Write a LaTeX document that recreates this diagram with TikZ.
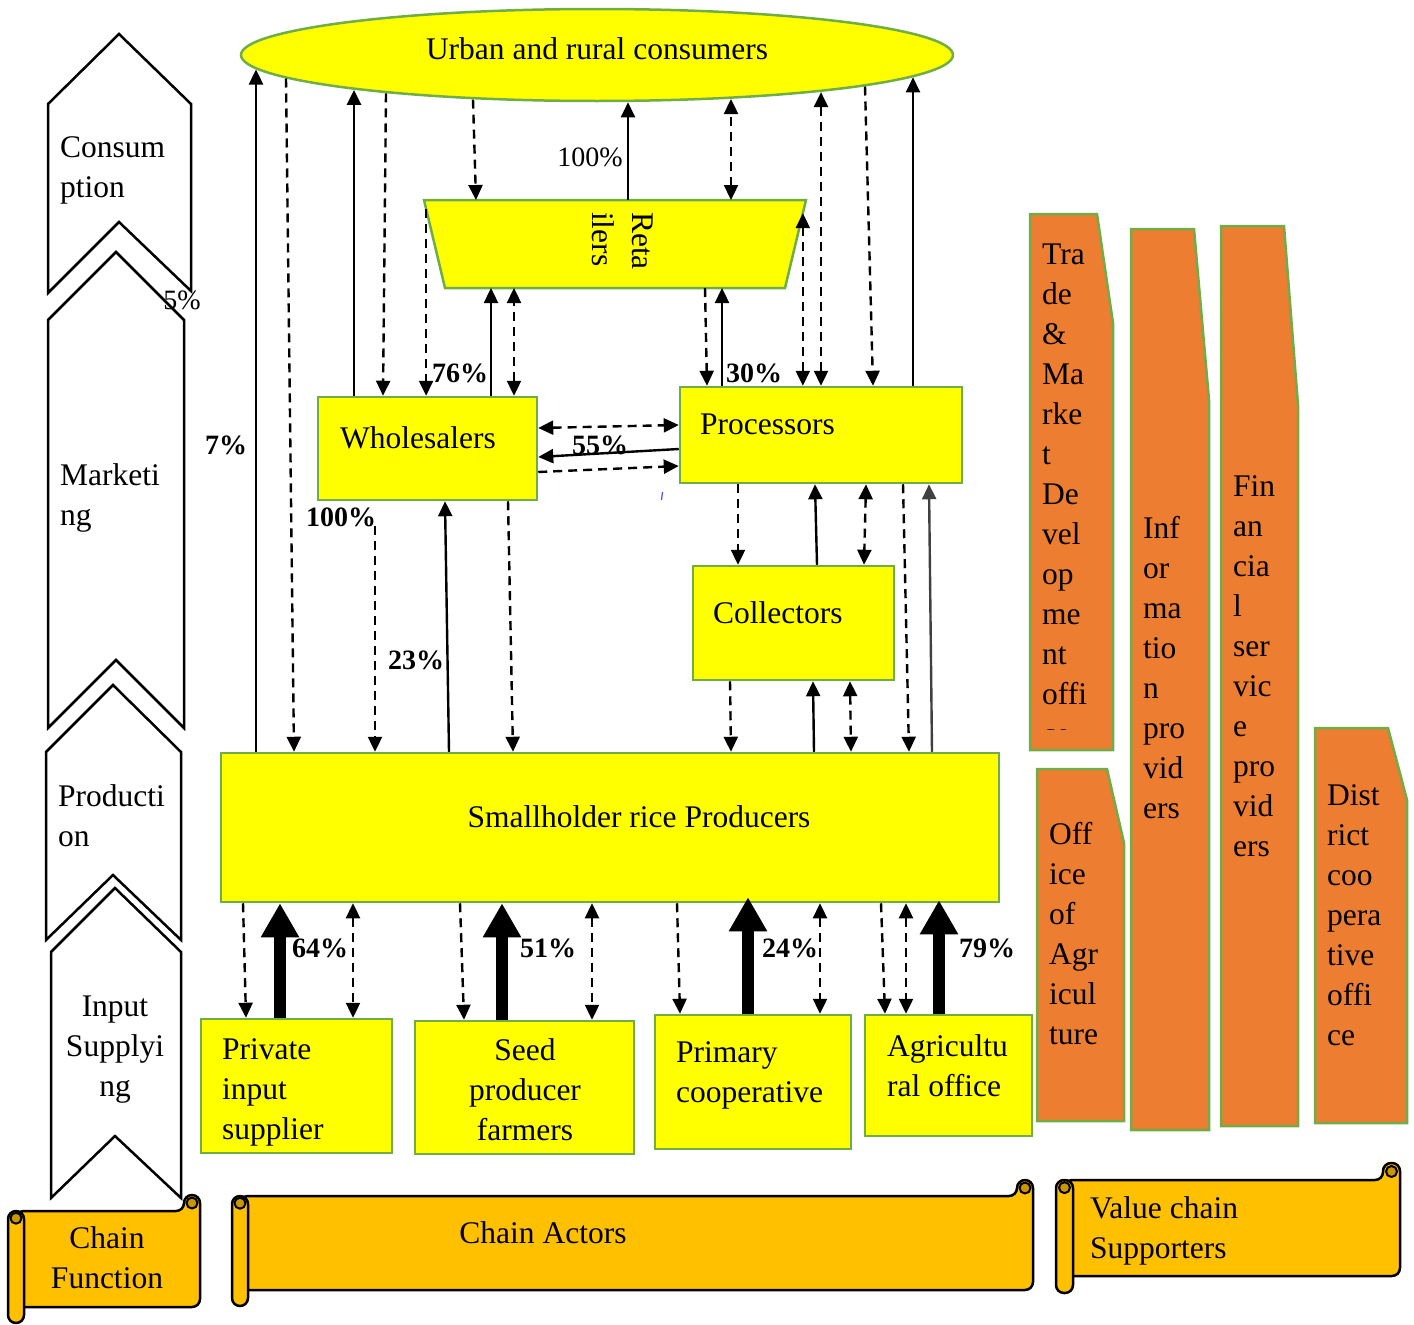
\documentclass[tikz,border=0pt]{standalone}
\usepackage{fontspec}
\setmainfont{Liberation Serif}
\usetikzlibrary{arrows.meta,shapes.geometric,calc}
\definecolor{ylw}{HTML}{FFFF00}
\definecolor{bgreen}{HTML}{70AD47}
\definecolor{orng}{HTML}{ED7D31}
\definecolor{scrl}{HTML}{FFC000}
\definecolor{scrldark}{HTML}{C99700}
\definecolor{arrgray}{HTML}{404040}
\tikzset{
  box/.style={draw=bgreen, line width=2.5pt, fill=ylw, inner sep=0pt},
  supshape/.style={draw=bgreen, line width=2.5pt, fill=orng},
  chev/.style={draw=black, line width=2.5pt, fill=white, line join=miter},
  scrollst/.style={draw=black, line width=2.5pt, fill=scrl, line join=round},
  txt/.style={font=\fontsize{31.5}{40}\selectfont, inner sep=0pt, align=left},
  txtc/.style={txt, align=center},
  pct/.style={font=\fontsize{28}{32}\selectfont\bfseries, inner sep=0pt},
  pctn/.style={font=\fontsize{28}{32}\selectfont, inner sep=0pt},
  flow/.style={line width=2.4pt, -{Triangle[width=14pt,length=15pt]}},
  dflow/.style={flow, dash pattern=on 9pt off 6pt},
  dboth/.style={line width=2.4pt, dash pattern=on 9pt off 6pt,
     {Triangle[width=14pt,length=15pt]}-{Triangle[width=14pt,length=15pt]}},
  bigflow/.style={line width=12pt, -{Triangle[width=36pt,length=34pt]}},
}
\newcommand\myscroll[5]{%
  \filldraw[scrollst, rounded corners=8pt] ({#1+#5/2},{#2+#5}) -- ({#3-#5},{#2+#5})
     -- ({#3-#5},{#2}) -- ({#3},{#2}) -- ({#3},{#4-#5}) -- ({#1+#5/2},{#4-#5}) -- cycle;
  \filldraw[scrollst, rounded corners=8pt] ({#1},{#2+#5}) rectangle ({#1+#5},{#4});
  \filldraw[scrollst, fill=scrldark, line width=2pt] ({#1+#5/2},{#2+#5*1.45}) circle[radius=5.5pt];
  \filldraw[scrollst, fill=scrldark, line width=2pt] ({#3-#5/2},{#2+#5/2}) circle[radius=5.5pt];
}
\begin{document}
\begin{tikzpicture}[x=1pt,y=-1pt]
\useasboundingbox (0,0) rectangle (1414,1325);

% ---------- chain function chevrons ----------
\filldraw[chev] (119,34) -- (191,104) -- (191,291) -- (119,222) -- (48,293) -- (48,104) -- cycle;
\filldraw[chev] (116,252) -- (184,320) -- (184,728) -- (116,660) -- (48,728) -- (48,320) -- cycle;
\filldraw[chev] (113,685) -- (181,752) -- (181,940) -- (113,875) -- (46,940) -- (46,752) -- cycle;
\filldraw[chev] (115,888) -- (181,952) -- (181,1198) -- (115,1136) -- (51,1198) -- (51,952) -- cycle;
\node[txt, anchor=west] (tcons) at (60,170) {Consum\\ption};
\node[txt, anchor=west] (tmark) at (60,498) {Marketi\\ng};
\node[txt, anchor=west] (tprod) at (58,816) {Producti\\on};
\node[txtc] (tinput) at (115,1050) {Input\\Supplyi\\ng};

% ---------- value chain supporters ----------
\filldraw[supshape] (1030,214) -- (1097,214) -- (1113,323) -- (1113,750) -- (1030,750) -- cycle;
\filldraw[supshape] (1131,229) -- (1194,229) -- (1209,400) -- (1209,1130) -- (1131,1130) -- cycle;
\filldraw[supshape] (1221,226) -- (1284,226) -- (1298,405) -- (1298,1126) -- (1221,1126) -- cycle;
\filldraw[supshape] (1037,769) -- (1107,769) -- (1124,843) -- (1124,1121) -- (1037,1121) -- cycle;
\filldraw[supshape] (1315,728) -- (1388,728) -- (1407,800) -- (1407,1123) -- (1315,1123) -- cycle;
\begin{scope}
  \clip (1030,214) rectangle (1113,729);
  \node[txt, anchor=west] (ttrade) at (1042,494) {Tra\\de\\\&\\Ma\\rke\\t\\De\\vel\\op\\me\\nt\\offi\\ce};
\end{scope}
\node[txt, anchor=west] (tinfo) at (1143,668) {Inf\\or\\ma\\tio\\n\\pro\\vid\\ers};
\node[txt, anchor=west] (tfin) at (1233,666) {Fin\\an\\cia\\l\\ser\\vic\\e\\pro\\vid\\ers};
\node[txt, anchor=west] (toff) at (1049,934) {Off\\ice\\of\\Agr\\icul\\ture};
\node[txt, anchor=west] (tdist) at (1327,915) {Dist\\rict\\coo\\pera\\tive\\offi\\ce};

% ---------- scrolls ----------
\myscroll{8}{1195}{200}{1323}{16}
\myscroll{232}{1180}{1033}{1306}{16}
\myscroll{1056}{1163}{1400}{1293}{17}
\node[txtc] (tcf) at (107,1258) {Chain\\Function};
\node[txt] (tca) at (543,1233) {Chain Actors};
\node[txt, anchor=west] (tvcs) at (1090,1231) {Value chain\\Supporters};

% ---------- chain actors ----------
\node[box, ellipse, minimum width=712pt, minimum height=92pt,
      font=\fontsize{31.5}{40}\selectfont, text height=22pt, text depth=14pt]
      (cons) at (597,55) {Urban and rural consumers};
\coordinate (cA) at ($(cons.center)+(-341,14.5)$);
\coordinate (cB) at ($(cons.center)+(-311,23.5)$);
\coordinate (cC) at ($(cons.center)+(-243,34.9)$);
\coordinate (cD) at ($(cons.center)+(-211,38.4)$);
\coordinate (cE) at ($(cons.center)+(-124,44.6)$);
\coordinate (cF) at ($(cons.center)+(31,47.3)$);
\coordinate (cG) at ($(cons.center)+(134,44.0)$);
\coordinate (cH) at ($(cons.center)+(224,37.1)$);
\coordinate (cI) at ($(cons.center)+(268,31.5)$);
\coordinate (cJ) at ($(cons.center)+(316,22.3)$);

\node[inner sep=0pt, outer sep=0pt, minimum width=382pt, minimum height=88pt] (ret) at (615,244) {};
\filldraw[draw=bgreen, line width=2.5pt, fill=ylw] (ret.north west) -- (ret.north east)
   -- ([xshift=-21pt]ret.south east) -- ([xshift=21pt]ret.south west) -- cycle;
\coordinate (retTR) at ($(ret.north east)!0.15!([xshift=-21pt]ret.south east)$);
\coordinate (retTL) at ($(ret.north west)!0.1!([xshift=21pt]ret.south west)$);
\node[txt, rotate=-90, anchor=west] (rettxt) at (623,212) {Reta\\ilers};

\node[box, minimum width=219pt, minimum height=103pt] (wh) at (427.5,448.5) {};
\node[txt, anchor=west] (whtxt) at (340,438) {Wholesalers};
\node[box, minimum width=282pt, minimum height=96pt] (pr) at (821,435) {};
\node[txt, anchor=west] (prtxt) at (700,424) {Processors};
\node[box, minimum width=201pt, minimum height=114pt] (col) at (793.5,623) {};
\node[txt, anchor=west] (coltxt) at (713,613) {Collectors};
\node[box, minimum width=778pt, minimum height=149pt] (sh) at (610,827.5) {};
\node[txt] (shtxt) at (639,817) {Smallholder rice Producers};

\node[box, minimum width=191pt, minimum height=134pt] (pi) at (296.5,1086) {};
\node[txt, anchor=west] (pitxt) at (222,1092) {Private\\input\\supplier};
\node[box, minimum width=219pt, minimum height=133pt] (seed) at (524.5,1087.5) {};
\node[txtc] (seedtxt) at (525,1090) {Seed\\producer\\farmers};
\node[box, minimum width=196pt, minimum height=134pt] (prim) at (753,1082) {};
\node[txt, anchor=west] (primtxt) at (676,1075) {Primary\\cooperative};
\node[box, minimum width=167pt, minimum height=121pt] (agri) at (948.5,1075.5) {};
\node[txt, anchor=west] (agritxt) at (887,1066) {Agricultu\\ral office};

% ---------- connectors: consumers ----------
\draw[flow] (sh.north -| cA) -- (cA);
\draw[dflow] (cB) -- (sh.north -| 294,0);
\draw[flow] (wh.north -| cC) -- (cC);
\draw[dflow] (cD) -- (wh.north -| 383,0);
\draw[dflow] (cE) -- (ret.north -| 476,0);
\draw[flow] (ret.north -| cF) -- (cF);
\draw[dboth] (ret.north -| cG) -- (cG);
\draw[dboth] (pr.north -| cH) -- (cH);
\draw[dflow] (cI) -- (pr.north -| 873,0);
\draw[flow] (pr.north -| cJ) -- (cJ);

% ---------- retailers ----------
\draw[dboth] (pr.north -| retTR) -- (retTR);
\draw[dflow] (retTL) -- (wh.north -| retTL);
\draw[flow] (wh.north -| 491,0) -- (ret.south -| 491,0);
\draw[dboth] (wh.north -| 514,0) -- (ret.south -| 514,0);
\draw[dflow] (ret.south -| 705,0) -- (pr.north -| 707,0);
\draw[flow] (pr.north -| 722,0) -- (ret.south -| 722,0);

% ---------- wholesalers / processors ----------
\draw[dboth] (wh.east |- 0,428) -- (pr.west |- 0,425);
\draw[flow] (pr.west |- 0,449) -- (wh.east |- 0,457);
\draw[dflow] (wh.east |- 0,472) -- (pr.west |- 0,466);
\draw[blue!70!white, line width=1.2pt] (662.5,492) -- (661.5,500);

\draw[dflow, shorten <=25pt] (wh.south -| 375,0) -- (sh.north -| 375,0);
\draw[flow] (sh.north -| 449,0) -- (wh.south -| 445,0);
\draw[dflow] (wh.south -| 508,0) -- (sh.north -| 513,0);

% ---------- processors / collectors / producers ----------
\draw[dflow] (pr.south -| 738,0) -- (col.north -| 738,0);
\draw[flow] (col.north -| 817,0) -- (pr.south -| 815,0);
\draw[dboth] (pr.south -| 866,0) -- (col.north -| 864,0);
\draw[dflow] (pr.south -| 903,0) -- (sh.north -| 909,0);
\draw[flow, color=arrgray] (sh.north -| 932,0) -- (pr.south -| 929,0);
\draw[dflow] (col.south -| 730,0) -- (sh.north -| 731,0);
\draw[flow] (sh.north -| 814,0) -- (col.south -| 813,0);
\draw[dboth] (col.south -| 850,0) -- (sh.north -| 851,0);

% ---------- input suppliers ----------
\draw[dflow] (sh.south -| 243,0) -- (pi.north -| 246,0);
\draw[bigflow] (pi.north -| 280,0) -- (sh.south -| 280,0);
\draw[dboth] (sh.south -| 353,0) -- (pi.north -| 353,0);
\draw[dflow] (sh.south -| 460,0) -- (seed.north -| 464,0);
\draw[bigflow] (seed.north -| 502,0) -- (sh.south -| 502,0);
\draw[dboth] (sh.south -| 592,0) -- (seed.north -| 592,0);
\draw[dflow] (sh.south -| 677,0) -- (prim.north -| 680,0);
\draw[bigflow] (prim.north -| 748,0) -- ([yshift=6pt]sh.south -| 748,0);
\draw[dboth] (sh.south -| 820,0) -- (prim.north -| 820,0);
\draw[dflow] (sh.south -| 881,0) -- (agri.north -| 885,0);
\draw[dboth] (sh.south -| 906,0) -- (agri.north -| 906,0);
\draw[bigflow] (agri.north -| 939,0) -- ([yshift=3pt]sh.south -| 939,0);

% ---------- percentages ----------
\node[pct] (p7) at (226,445) {7\%};
\node[pct] (p76) at (460,373) {76\%};
\node[pct] (p30) at (754,373) {30\%};
\node[pct] (p55) at (600,445) {55\%};
\node[pct] (p100b) at (341,517) {100\%};
\node[pct] (p23) at (416,660) {23\%};
\node[pct] (p64) at (320,948) {64\%};
\node[pct] (p51) at (548,948) {51\%};
\node[pct] (p24) at (790,948) {24\%};
\node[pct] (p79) at (987,948) {79\%};
\node[pctn] (p100) at (590,157) {100\%};
\node[pctn] (p5) at (182,300) {5\%};
\end{tikzpicture}
\end{document}
